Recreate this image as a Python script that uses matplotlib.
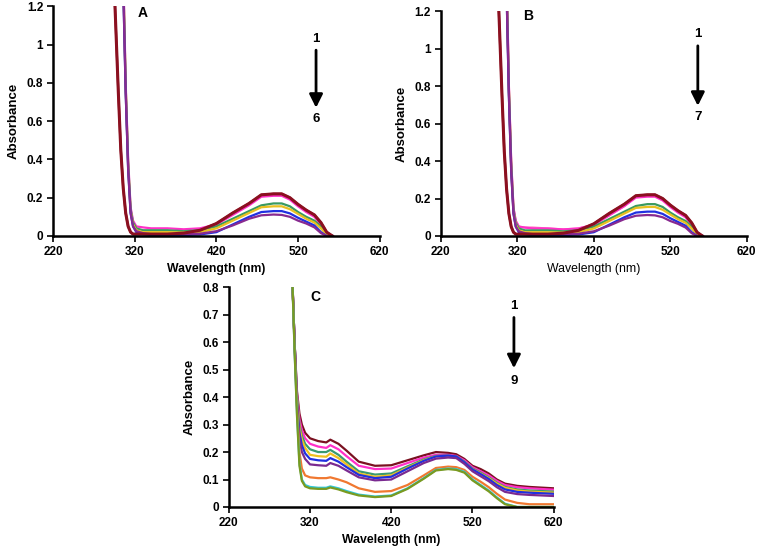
import numpy as np
import matplotlib
matplotlib.use("Agg")
from matplotlib import pyplot as plt
from matplotlib.ticker import FuncFormatter

plt.rcParams["font.family"] = ["Liberation Sans", "DejaVu Sans"]
plt.rcParams["font.weight"] = "bold"

#=============================================================================
# panel A / B : wavelength grid (nm) and absorbance of each spectrum
wl_ab = [295, 300, 303, 306, 309, 312, 315, 318, 322, 330, 340, 360, 380, 400,
         420, 440, 460, 475, 490, 500, 510, 520, 530, 540, 548, 555, 562]

a_1 = [1.30, 0.75, 0.45, 0.25, 0.12, 0.05, 0.02, 0.01, 0.01, 0.01, 0.01, 0.01, 0.015, 0.03,
       0.065, 0.12, 0.17, 0.215, 0.22, 0.22, 0.20, 0.165, 0.135, 0.11, 0.07, 0.02, 0.0]
a_2 = [2.5, 2.5, 2.0, 1.40, 0.80, 0.40, 0.15, 0.08, 0.05, 0.045, 0.04, 0.04, 0.035, 0.04,
       0.06, 0.11, 0.16, 0.205, 0.21, 0.21, 0.19, 0.155, 0.125, 0.10, 0.06, 0.015, 0.0]
a_3 = [2.5, 2.5, 2.0, 1.35, 0.78, 0.38, 0.14, 0.07, 0.04, 0.03, 0.03, 0.03, 0.025, 0.03,
       0.05, 0.09, 0.13, 0.16, 0.17, 0.17, 0.155, 0.125, 0.10, 0.08, 0.05, 0.01, 0.0]
a_4 = [2.5, 2.5, 2.0, 1.35, 0.78, 0.37, 0.13, 0.06, 0.03, 0.02, 0.02, 0.02, 0.018, 0.02,
       0.04, 0.08, 0.12, 0.15, 0.155, 0.155, 0.14, 0.115, 0.09, 0.07, 0.04, 0.005, 0.0]
a_5 = [2.5, 2.5, 2.0, 1.30, 0.75, 0.35, 0.12, 0.05, 0.02, 0.01, 0.005, 0.005, 0.005, 0.008,
       0.02, 0.06, 0.10, 0.125, 0.13, 0.13, 0.118, 0.095, 0.075, 0.055, 0.02, 0.0, 0.0]
a_6 = [2.5, 2.5, 2.0, 1.30, 0.75, 0.35, 0.12, 0.05, 0.025, 0.015, 0.01, 0.01, 0.01, 0.012,
       0.025, 0.055, 0.09, 0.108, 0.112, 0.11, 0.10, 0.08, 0.065, 0.045, 0.015, 0.0, 0.0]
spectra_a = [a_1, a_2, a_3, a_4, a_5, a_6]

b_1 = a_1
b_2 = [2.5, 2.5, 2.0, 1.40, 0.80, 0.40, 0.15, 0.08, 0.05, 0.045, 0.045, 0.04, 0.035, 0.04,
       0.06, 0.11, 0.16, 0.21, 0.215, 0.215, 0.195, 0.16, 0.13, 0.105, 0.065, 0.018, 0.0]
b_3 = a_2
b_4 = a_3
b_5 = a_4
b_6 = a_5
b_7 = a_6
spectra_b = [b_1, b_2, b_3, b_4, b_5, b_6, b_7]

# panel C
wl_c = [298, 301, 304, 307, 310, 314, 320, 330, 340, 345, 355, 365, 380, 400, 420,
        440, 460, 475, 490, 500, 510, 520, 530, 540, 550, 560, 575, 590, 620]

c_1 = [0.85, 0.60, 0.42, 0.34, 0.30, 0.27, 0.25, 0.24, 0.235, 0.245, 0.23, 0.205, 0.165, 0.15, 0.152,
       0.17, 0.188, 0.20, 0.197, 0.192, 0.175, 0.15, 0.138, 0.122, 0.10, 0.085, 0.077, 0.073, 0.068]
c_2 = [0.85, 0.60, 0.41, 0.32, 0.28, 0.25, 0.23, 0.22, 0.215, 0.225, 0.21, 0.185, 0.15, 0.138, 0.14,
       0.16, 0.18, 0.19, 0.19, 0.186, 0.17, 0.145, 0.13, 0.115, 0.095, 0.08, 0.072, 0.068, 0.063]
c_3 = [0.85, 0.60, 0.40, 0.30, 0.26, 0.23, 0.21, 0.20, 0.20, 0.208, 0.19, 0.165, 0.13, 0.118, 0.122,
       0.148, 0.173, 0.186, 0.187, 0.184, 0.165, 0.14, 0.125, 0.108, 0.088, 0.073, 0.064, 0.06, 0.056]
c_4 = [0.85, 0.60, 0.39, 0.29, 0.245, 0.215, 0.19, 0.185, 0.183, 0.195, 0.178, 0.155, 0.122, 0.11, 0.115,
       0.143, 0.17, 0.184, 0.186, 0.183, 0.163, 0.138, 0.122, 0.105, 0.085, 0.07, 0.06, 0.056, 0.052]
c_5 = [0.85, 0.60, 0.38, 0.27, 0.225, 0.195, 0.175, 0.17, 0.168, 0.178, 0.165, 0.145, 0.117, 0.105, 0.11,
       0.14, 0.168, 0.184, 0.187, 0.184, 0.163, 0.137, 0.12, 0.102, 0.08, 0.064, 0.055, 0.052, 0.048]
c_6 = [0.85, 0.60, 0.37, 0.25, 0.20, 0.175, 0.155, 0.152, 0.15, 0.16, 0.15, 0.133, 0.108, 0.097, 0.10,
       0.13, 0.16, 0.176, 0.18, 0.178, 0.157, 0.13, 0.112, 0.094, 0.072, 0.055, 0.047, 0.044, 0.04]
c_7 = [0.85, 0.58, 0.36, 0.20, 0.14, 0.115, 0.108, 0.105, 0.105, 0.108, 0.10, 0.09, 0.068, 0.055, 0.058,
       0.08, 0.115, 0.142, 0.147, 0.145, 0.135, 0.11, 0.092, 0.072, 0.048, 0.027, 0.015, 0.01, 0.01]
c_8 = [0.85, 0.57, 0.34, 0.16, 0.10, 0.08, 0.073, 0.07, 0.07, 0.075, 0.068, 0.058, 0.045, 0.038, 0.042,
       0.068, 0.105, 0.135, 0.14, 0.138, 0.128, 0.10, 0.08, 0.06, 0.035, 0.012, 0.0, 0.0, 0.0]
c_9 = [0.85, 0.57, 0.33, 0.15, 0.095, 0.075, 0.068, 0.066, 0.066, 0.071, 0.064, 0.054, 0.042, 0.036, 0.04,
       0.066, 0.103, 0.133, 0.138, 0.135, 0.125, 0.097, 0.077, 0.057, 0.032, 0.01, 0.0, 0.0, 0.0]
spectra_c = [c_1, c_2, c_3, c_4, c_5, c_6, c_7, c_8, c_9]

colors_a = ["#8b1020", "#ff30c8", "#3a9a60", "#e8c020", "#2030e0", "#882a90"]
colors_b = ["#8b1020", "#ff70c0", "#ff30c8", "#3a9a60", "#e8c020", "#2030e0", "#882a90"]
colors_c = ["#7a1020", "#ff30c8", "#3a9a70", "#f0c020", "#2030e0", "#7a2a90",
            "#f07830", "#30c8d8", "#7a9a20"]
#=============================================================================


def style_axes(ax, ymax, ystep, xlabel_bold=True):
    ax.set_xlim(220, 620)
    ax.set_ylim(0, ymax)
    ax.set_xticks(np.arange(220, 621, 100))
    ax.set_yticks(np.arange(0, ymax + 1e-9, ystep))
    ax.yaxis.set_major_formatter(FuncFormatter(lambda v, p: "%g" % round(v, 2)))
    for s in ["top", "right"]:
        ax.spines[s].set_visible(False)
    for s in ["left", "bottom"]:
        ax.spines[s].set_linewidth(1.8)
    ax.tick_params(direction="out", length=4, width=1.2, labelsize=8.5, pad=3)
    for lab in ax.get_xticklabels() + ax.get_yticklabels():
        lab.set_fontweight("bold")
    ax.set_ylabel("Absorbance", fontsize=9.5, fontweight="bold", labelpad=5)
    ax.set_xlabel("Wavelength (nm)", fontsize=8.8,
                  fontweight="bold" if xlabel_bold else "normal", labelpad=4)


def draw_arrow(ax, x, ytop, ytip, ynum_top, ynum_bot, top, bottom):
    ax.annotate("", xy=(x, ytip), xytext=(x, ytop),
                arrowprops=dict(arrowstyle="-|>", lw=2.0, color="black", mutation_scale=20))
    ax.text(x, ynum_top, top, ha="center", va="bottom", fontsize=9.5, fontweight="bold")
    ax.text(x, ynum_bot, bottom, ha="center", va="top", fontsize=9.5, fontweight="bold")


fig = plt.figure(figsize=(7.6, 5.55), dpi=100)

ax_a = fig.add_axes([0.0697, 0.5748, 0.430, 0.414])
for y, c in zip(spectra_a, colors_a):
    ax_a.plot(wl_ab, y, color=c, lw=1.6)
ax_a.plot(wl_ab, a_1, color=colors_a[0], lw=2.2)
style_axes(ax_a, 1.2, 0.2)
ax_a.text(324, 1.2, "A", fontsize=10, fontweight="bold", va="top")
draw_arrow(ax_a, 542, 0.985, 0.655, 1.0, 0.64, "1", "6")

ax_b = fig.add_axes([0.580, 0.5748, 0.4026, 0.405])
for y, c in zip(spectra_b, colors_b):
    ax_b.plot(wl_ab, y, color=c, lw=1.6)
ax_b.plot(wl_ab, b_1, color=colors_b[0], lw=2.2)
style_axes(ax_b, 1.2, 0.2, xlabel_bold=False)
ax_b.text(327, 1.21, "B", fontsize=10, fontweight="bold", va="top")
draw_arrow(ax_b, 556, 1.03, 0.68, 1.045, 0.665, "1", "7")

ax_c = fig.add_axes([0.301, 0.0865, 0.4276, 0.396])
for y, c in zip(spectra_c, colors_c):
    ax_c.plot(wl_c, y, color=c, lw=1.6)
style_axes(ax_c, 0.8, 0.1)
ax_c.text(320, 0.79, "C", fontsize=10, fontweight="bold", va="top")
draw_arrow(ax_c, 571, 0.70, 0.495, 0.71, 0.48, "1", "9")

fig.savefig("out.png", dpi=100)
